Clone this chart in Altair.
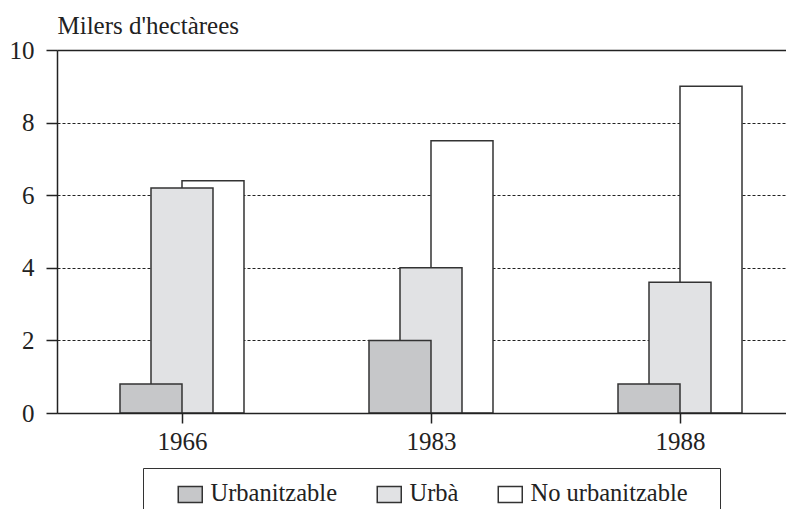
import altair as alt
import pandas as pd

# ---- data ----
years = ["1966", "1983", "1988"]
categories = ["Urbanitzable", "Urbà", "No urbanitzable"]
urbanitzable = [0.8, 2.0, 0.8]
urba = [6.2, 4.0, 3.6]
no_urbanitzable = [6.4, 7.5, 9.0]
y_ticks = [0, 2, 4, 6, 8, 10]

# ---- styling ----
colors = ["#c6c7c9", "#e1e2e4", "#ffffff"]
offsets = {"Urbanitzable": -31, "Urbà": 0, "No urbanitzable": 31}
FONT = "Liberation Serif"
INK = "#222222"

series = {"Urbanitzable": urbanitzable, "Urbà": urba, "No urbanitzable": no_urbanitzable}
rows = []
for i, yr in enumerate(years):
    for cat in categories:
        rows.append({"year": yr, "pos": i, "cat": cat, "value": series[cat][i]})
df = pd.DataFrame(rows)

label_expr = "[" + ",".join("'%s'" % y for y in years) + "][datum.value]"

x_enc = alt.X(
    "pos:Q",
    scale=alt.Scale(domain=[-0.502, 2.4257], nice=False, zero=False, padding=0),
    axis=alt.Axis(
        values=list(range(len(years))), labelExpr=label_expr, title=None, grid=False,
        tickSize=10, tickColor=INK, tickWidth=1.5, domainColor=INK, domainWidth=1.5,
        labelPadding=6, labelFontSize=25, labelFont=FONT, labelColor=INK,
        labelFlush=False, zindex=1,
    ),
)
y_enc = alt.Y(
    "value:Q",
    scale=alt.Scale(domain=[0, 10], nice=False),
    axis=alt.Axis(
        values=y_ticks, tickSize=11, tickColor=INK, tickWidth=1.5,
        domainColor=INK, domainWidth=1.5,
        labelPadding=12, labelFontSize=25, labelFont=FONT, labelColor=INK,
        title="Milers d'hectàrees", titleAngle=0, titleX=0, titleY=-17,
        titleAlign="left", titleBaseline="alphabetic", titleFont=FONT,
        titleFontSize=25, titleFontWeight="normal", titleColor=INK,
        gridDash={"condition": {"test": "datum.value === 10", "value": []}, "value": [3, 2]},
        gridColor=INK,
        gridWidth={"condition": {"test": "datum.value === 10", "value": 1.5}, "value": 1.2},
        gridOpacity=1,
    ),
)
color_enc = alt.Color(
    "cat:N",
    scale=alt.Scale(domain=categories, range=colors),
    legend=alt.Legend(
        orient="none", legendX=86, legendY=418, direction="horizontal",
        title=" ", titleOrient="left", titlePadding=21, titleFontSize=24.5,
        titleFont=FONT,
        padding=14, strokeColor="#333333",
        labelFont=FONT, labelFontSize=24.5, labelColor=INK, labelOffset=8,
        labelLimit=600,
        labelExpr="datum.label == 'No urbanitzable' ? datum.label + '\u2800' : datum.label",
        columnPadding=36,
        symbolType="M-1.5,-1H1.5V1H-1.5Z", symbolSize=256,
        symbolStrokeColor="#333333", symbolStrokeWidth=1.5, symbolOpacity=1,
    ),
)

base = alt.Chart(df).encode(x=x_enc, y=y_enc, color=color_enc)
layers = []
for cat in reversed(categories):
    layers.append(
        base.transform_filter(alt.datum.cat == cat).mark_bar(
            width=62, xOffset=offsets[cat], stroke="#333333", strokeWidth=1.5, opacity=1
        )
    )

chart = (
    alt.layer(*layers)
    .properties(
        width=729, height=363,
        autosize=alt.AutoSizeParams(type="none"),
        padding={"left": 49, "top": 42, "right": 0, "bottom": 96},
    )
    .configure_view(strokeWidth=0)
    .configure(style={"guide-label": {"font": FONT}, "guide-title": {"font": FONT}})
)

chart.save("out.html", embed_options={"renderer": "svg", "actions": False})
